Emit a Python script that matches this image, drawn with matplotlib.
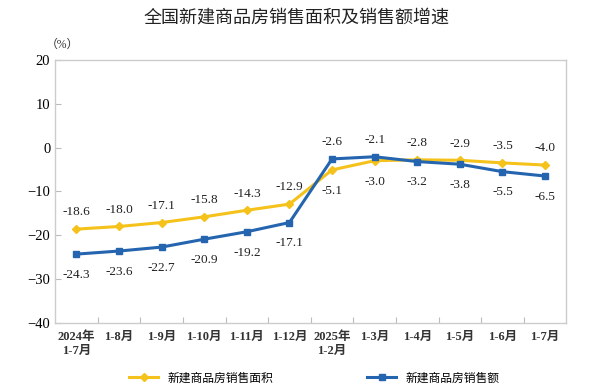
import matplotlib.pyplot as plt

plt.rcParams['font.family'] = ['Liberation Serif', 'Noto Sans CJK SC']

categories = ['2024年\n1-7月', '1-8月', '1-9月', '1-10月', '1-11月', '1-12月',
              '2025年\n1-2月', '1-3月', '1-4月', '1-5月', '1-6月', '1-7月']
area = [-18.6, -18.0, -17.1, -15.8, -14.3, -12.9, -5.1, -3.0, -2.8, -2.9, -3.5, -4.0]
sales = [-24.3, -23.6, -22.7, -20.9, -19.2, -17.1, -2.6, -2.1, -3.2, -3.8, -5.5, -6.5]
area_above = [True] * 6 + [False, False] + [True] * 4

yellow = '#F5C21B'
blue = '#2565B0'

fig = plt.figure(figsize=(5.93, 3.91), dpi=100)
ax = fig.add_axes([0.093, 0.174, 0.862, 0.673])
x = list(range(len(categories)))
ax.plot(x, area, color=yellow, lw=2.2, marker='D', ms=4.5, label='新建商品房销售面积')
ax.plot(x, sales, color=blue, lw=2.2, marker='s', ms=4.5, label='新建商品房销售额')

for i in x:
    if area_above[i]:
        ya, yb = 12, -15
    else:
        ya, yb = -15, 12
    ax.annotate(f'{area[i]:.1f}', (i, area[i]), xytext=(0, ya), textcoords='offset points',
                ha='center', va='center', fontsize=9.5, color='#222222')
    ax.annotate(f'{sales[i]:.1f}', (i, sales[i]), xytext=(0, yb), textcoords='offset points',
                ha='center', va='center', fontsize=9.5, color='#222222')

ax.set_xlim(-0.5, 11.5)
ax.set_ylim(-40, 20)
ax.set_yticks(range(-40, 21, 10))
ax.set_xticks([i + 0.5 for i in range(11)])
ax.set_xticklabels([])
ax.set_xticks(x, minor=True)
ax.set_xticklabels(categories, minor=True, fontsize=9, fontweight='bold', color='#333333')
ax.tick_params(axis='x', which='minor', length=0, pad=6)
ax.tick_params(axis='x', which='major', length=4, direction='in', color='#bbbbbb')
ax.tick_params(axis='y', length=4, direction='in', color='#bbbbbb', labelsize=10.5)
for s in ax.spines.values():
    s.set_color('#cccccc')
    s.set_linewidth(1)

fig.text(0.105, 0.885, '（%）', fontsize=8.5, ha='center', va='center', color='#333333')
fig.text(0.5, 0.955, '全国新建商品房销售面积及销售额增速', fontsize=13,
         ha='center', va='center', family=['Noto Sans CJK SC'], fontweight='medium',
         color='#222222')
fig.legend(loc='lower center', ncol=2, frameon=False, bbox_to_anchor=(0.53, -0.01),
           columnspacing=8, handlelength=2.4,
           prop={'family': ['Noto Sans CJK SC'], 'size': 8.5})

fig.savefig('out.png', dpi=100)
